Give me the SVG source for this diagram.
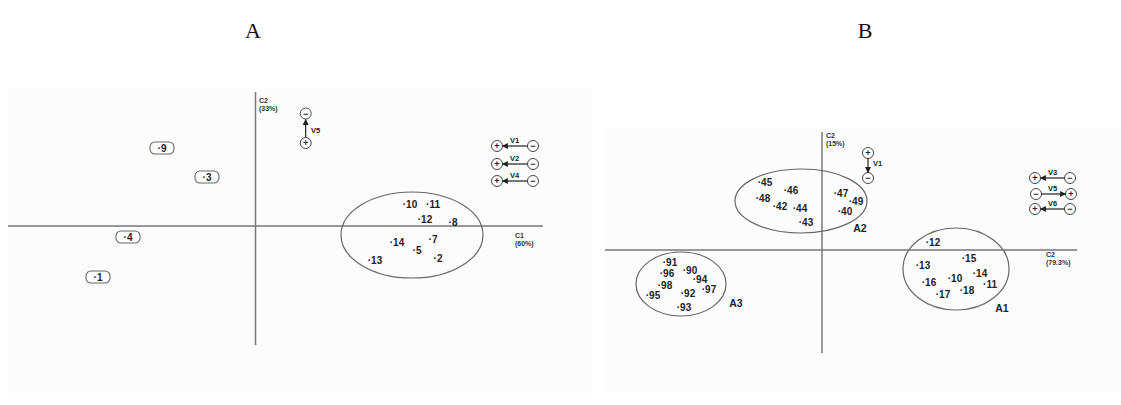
<svg xmlns="http://www.w3.org/2000/svg" width="1121" height="405" viewBox="0 0 1121 405">
<defs>
<marker id="ah" viewBox="0 0 10 10" refX="9" refY="5" markerWidth="6" markerHeight="6" markerUnits="userSpaceOnUse" orient="auto">
<path d="M0,0 L10,5 L0,10 z" fill="#222"/>
</marker>
</defs>
<style>
.ttl{font-family:"Liberation Serif","Times New Roman",serif;font-size:22px;fill:#111;text-anchor:middle}
.pt{font-family:"Liberation Sans",Arial,sans-serif;font-weight:bold;font-size:10px;fill:#222;text-anchor:middle}
.ax{font-family:"Liberation Sans",Arial,sans-serif;font-weight:bold;font-size:7px;fill:#333}
.cl{font-family:"Liberation Sans",Arial,sans-serif;font-weight:bold;font-size:10.5px;fill:#222;text-anchor:middle}
.vl{font-family:"Liberation Sans",Arial,sans-serif;font-weight:bold;font-size:7.5px;fill:#222}
.sg{font-family:"Liberation Sans",Arial,sans-serif;font-weight:bold;font-size:9px;fill:#222;text-anchor:middle}
.axis{stroke:#777;stroke-width:1.5;fill:none}
.ell{stroke:#666;stroke-width:1.2;fill:none}
.box{stroke:#666;stroke-width:1.1;fill:#fff}
.cir{stroke:#444;stroke-width:1;fill:#fff}
.arr{stroke:#222;stroke-width:1.2;fill:none;marker-end:url(#ah)}
.bg{fill:#fcfcfc}
</style>
<rect width="1121" height="405" fill="#fff"/>
<rect class="bg" x="8" y="88" width="584" height="306"/>
<rect class="bg" x="604" y="128" width="517" height="264"/>
<text class="ttl" x="253" y="38">A</text>
<text class="ttl" x="865" y="38">B</text>

<!-- Panel A axes -->
<line class="axis" x1="8" y1="226" x2="543" y2="226"/>
<line class="axis" x1="255.5" y1="92" x2="255.5" y2="345"/>
<text class="ax" x="259" y="103">C2</text>
<text class="ax" x="259" y="111">(33%)</text>
<text class="ax" x="515" y="238">C1</text>
<text class="ax" x="515" y="246">(60%)</text>

<!-- Panel A nodes -->
<g id="nA9"><rect class="box" x="150" y="142" width="24" height="12" rx="5"/><text class="pt" x="162" y="151.5">·9</text></g>
<g id="nA3"><rect class="box" x="195" y="171" width="24" height="12" rx="5"/><text class="pt" x="207" y="180.5">·3</text></g>
<g id="nA4"><rect class="box" x="116" y="231" width="24" height="12" rx="5"/><text class="pt" x="128" y="240.5">·4</text></g>
<g id="nA1"><rect class="box" x="86" y="271" width="24" height="12" rx="5"/><text class="pt" x="98" y="280.5">·1</text></g>

<g id="clusterA">
<ellipse class="ell" cx="412" cy="235" rx="71" ry="43"/>
<text class="pt" x="410" y="207.5">·10</text>
<text class="pt" x="433" y="207.5">·11</text>
<text class="pt" x="425" y="222.5">·12</text>
<text class="pt" x="453" y="225.5">·8</text>
<text class="pt" x="397" y="245.5">·14</text>
<text class="pt" x="433" y="242.5">·7</text>
<text class="pt" x="417" y="253.5">·5</text>
<text class="pt" x="375" y="263.5">·13</text>
<text class="pt" x="438" y="261.5">·2</text>
</g>

<!-- Panel A legend -->
<g id="legA">
<circle class="cir" cx="305.7" cy="113.5" r="5.5"/><text class="sg" x="305.7" y="116.5">−</text>
<circle class="cir" cx="305.7" cy="143" r="5.5"/><text class="sg" x="305.7" y="146.2">+</text>
<text class="vl" x="311" y="133">V5</text>
<circle class="cir" cx="497" cy="146" r="5.5"/><text class="sg" x="497" y="149.2">+</text>
<circle class="cir" cx="533" cy="146" r="5.5"/><text class="sg" x="533" y="149">−</text>
<text class="vl" x="510" y="143">V1</text>
<circle class="cir" cx="497" cy="164" r="5.5"/><text class="sg" x="497" y="167.2">+</text>
<circle class="cir" cx="533" cy="164" r="5.5"/><text class="sg" x="533" y="167">−</text>
<text class="vl" x="510" y="161">V2</text>
<circle class="cir" cx="497" cy="181" r="5.5"/><text class="sg" x="497" y="184.2">+</text>
<circle class="cir" cx="533" cy="181" r="5.5"/><text class="sg" x="533" y="184">−</text>
<text class="vl" x="510" y="178">V4</text>
</g>

<!-- Panel B axes -->
<line class="axis" x1="605" y1="250" x2="1077" y2="250"/>
<line class="axis" x1="822" y1="132" x2="822" y2="353"/>
<text class="ax" x="826" y="138">C2</text>
<text class="ax" x="826" y="146">(15%)</text>
<text class="ax" x="1046" y="257">C2</text>
<text class="ax" x="1046" y="265">(79.3%)</text>

<g id="clusterA2">
<ellipse class="ell" cx="801" cy="201" rx="66" ry="32"/>
<text class="pt" x="765" y="185.5">·45</text>
<text class="pt" x="791" y="193.5">·46</text>
<text class="pt" x="763" y="201.5">·48</text>
<text class="pt" x="780" y="209.5">·42</text>
<text class="pt" x="800" y="211.5">·44</text>
<text class="pt" x="806" y="225.5">·43</text>
<text class="pt" x="841" y="196.5">·47</text>
<text class="pt" x="856" y="204.5">·49</text>
<text class="pt" x="845" y="214.5">·40</text>
<text class="cl" x="860" y="232">A2</text>
</g>

<g id="clusterA3">
<ellipse class="ell" cx="681" cy="284" rx="45" ry="32"/>
<text class="pt" x="670" y="265.5">·91</text>
<text class="pt" x="667" y="276.5">·96</text>
<text class="pt" x="690" y="273.5">·90</text>
<text class="pt" x="700" y="282.5">·94</text>
<text class="pt" x="665" y="289">·98</text>
<text class="pt" x="653" y="298.5">·95</text>
<text class="pt" x="688" y="296.5">·92</text>
<text class="pt" x="709" y="292.5">·97</text>
<text class="pt" x="684" y="310.5">·93</text>
<text class="cl" x="736" y="307">A3</text>
</g>

<g id="clusterA1">
<ellipse class="ell" cx="956" cy="269" rx="53" ry="41"/>
<text class="pt" x="933" y="245.5">·12</text>
<text class="pt" x="969" y="261.5">·15</text>
<text class="pt" x="923" y="268.5">·13</text>
<text class="pt" x="980" y="276.5">·14</text>
<text class="pt" x="955" y="281.5">·10</text>
<text class="pt" x="929" y="285.5">·16</text>
<text class="pt" x="990" y="287.5">·11</text>
<text class="pt" x="967" y="293.5">·18</text>
<text class="pt" x="943" y="297.5">·17</text>
<text class="cl" x="1002" y="312">A1</text>
</g>

<!-- Panel B legend -->
<g id="legB">
<circle class="cir" cx="868" cy="153" r="5.5"/><text class="sg" x="868" y="156.2">+</text>
<circle class="cir" cx="868" cy="178" r="5.5"/><text class="sg" x="868" y="181">−</text>
<text class="vl" x="873" y="166">V1</text>
<circle class="cir" cx="1035" cy="178" r="5.5"/><text class="sg" x="1035" y="181.2">+</text>
<circle class="cir" cx="1070" cy="178" r="5.5"/><text class="sg" x="1070" y="181">−</text>
<text class="vl" x="1048" y="175">V3</text>
<circle class="cir" cx="1036" cy="194" r="5.5"/><text class="sg" x="1036" y="197">−</text>
<circle class="cir" cx="1071" cy="194" r="5.5"/><text class="sg" x="1071" y="197.2">+</text>
<text class="vl" x="1048" y="191">V5</text>
<circle class="cir" cx="1035" cy="209" r="5.5"/><text class="sg" x="1035" y="212.2">+</text>
<circle class="cir" cx="1070" cy="209" r="5.5"/><text class="sg" x="1070" y="212">−</text>
<text class="vl" x="1048" y="206">V6</text>
</g>

<g id="connectors">
<line class="arr" x1="305.7" y1="137.5" x2="305.7" y2="119.5"/>
<line class="arr" x1="527.5" y1="146" x2="502.5" y2="146"/>
<line class="arr" x1="527.5" y1="164" x2="502.5" y2="164"/>
<line class="arr" x1="527.5" y1="181" x2="502.5" y2="181"/>
<line class="arr" x1="868" y1="158.5" x2="868" y2="172.5"/>
<line class="arr" x1="1064.5" y1="178" x2="1040.5" y2="178"/>
<line class="arr" x1="1041.5" y1="194" x2="1065.5" y2="194"/>
<line class="arr" x1="1064.5" y1="209" x2="1040.5" y2="209"/>
</g>
</svg>
